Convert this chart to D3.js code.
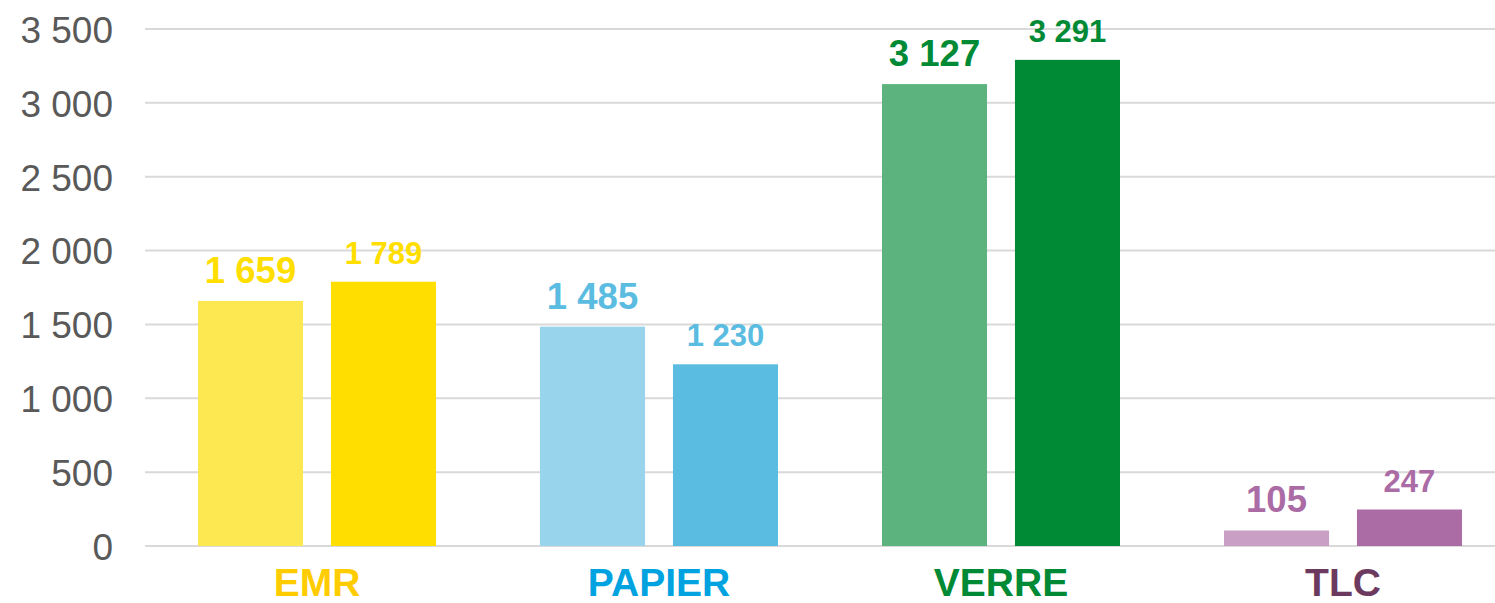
<!DOCTYPE html>
<html>
<head>
<meta charset="utf-8">
<script src="https://cdn.jsdelivr.net/npm/d3@7.9.0/dist/d3.min.js"></script>
<style>
  body { margin: 0; background: #fff; }
  svg { display: block; font-family: "Liberation Sans", Arial, sans-serif; }
</style>
</head>
<body>
<svg id="chart" width="1495" height="603"></svg>
<script>
// values
const categories = ['EMR', 'PAPIER', 'VERRE', 'TLC'];
const series = ['a', 'b'];
const valuesA = [1659, 1485, 3127, 105];
const valuesB = [1789, 1230, 3291, 247];
const yTicks = [0, 500, 1000, 1500, 2000, 2500, 3000, 3500];

const barColorsA = ['#FEE851', '#98D4EC', '#5CB37E', '#C99FC5'];
const barColorsB = ['#FFDE00', '#5BBCE1', '#008A35', '#AB6CA5'];
const catColors = ['#FFCC00', '#00A3E0', '#008A35', '#6B3A5E'];

const fmt = d3.formatLocale({ decimal: ',', thousands: ' ', grouping: [3], currency: ['', ' €'] }).format(',');

const svg = d3.select('#chart');

const x0 = d3.scaleBand().domain(categories).range([145, 1513]).padding(0);
const x1 = d3.scaleBand().domain(series).range([53, 291]).paddingInner(0.21).paddingOuter(0);
const y = d3.scaleLinear().domain([0, 3500]).range([546, 29]);

// gridlines
svg.append('g')
  .selectAll('line')
  .data(yTicks)
  .join('line')
  .attr('x1', 145)
  .attr('x2', 1495)
  .attr('y1', d => y(d))
  .attr('y2', d => y(d))
  .attr('stroke', '#D9D9D9')
  .attr('stroke-width', 2);

// y axis labels
const yAxis = svg.append('g')
  .attr('transform', 'translate(113,0)')
  .call(d3.axisLeft(y).tickValues(yTicks).tickFormat(fmt).tickSize(0).tickPadding(0));
yAxis.select('.domain').remove();
yAxis.selectAll('text')
  .attr('font-family', '"Liberation Sans", Arial, sans-serif')
  .attr('font-size', 37)
  .attr('fill', '#595959')
  .attr('dy', '0.36em');

const rows = categories.map((c, i) => ({
  cat: c,
  i,
  bars: [
    { key: 'a', value: valuesA[i], fill: barColorsA[i], label: barColorsB[i], size: 36.5 },
    { key: 'b', value: valuesB[i], fill: barColorsB[i], label: barColorsB[i], size: 31 }
  ]
}));

const groups = svg.append('g')
  .selectAll('g')
  .data(rows)
  .join('g')
  .attr('transform', d => `translate(${x0(d.cat)},0)`);

groups.selectAll('rect')
  .data(d => d.bars)
  .join('rect')
  .attr('x', d => x1(d.key))
  .attr('width', x1.bandwidth())
  .attr('y', d => y(d.value))
  .attr('height', d => y(0) - y(d.value))
  .attr('fill', d => d.fill);

groups.selectAll('text.val')
  .data(d => d.bars)
  .join('text')
  .attr('class', 'val')
  .attr('x', d => x1(d.key) + x1.bandwidth() / 2)
  .attr('y', d => y(d.value) - 18)
  .attr('text-anchor', 'middle')
  .attr('font-weight', 'bold')
  .attr('font-size', d => d.size)
  .attr('fill', d => d.label)
  .text(d => fmt(d.value));

// category labels
svg.append('g')
  .selectAll('text')
  .data(categories)
  .join('text')
  .attr('x', d => x0(d) + (x1.range()[0] + x1.range()[1]) / 2)
  .attr('y', 596)
  .attr('text-anchor', 'middle')
  .attr('font-weight', 'bold')
  .attr('font-size', 39)
  .attr('fill', (d, i) => catColors[i])
  .text(d => d);
</script>
</body>
</html>
